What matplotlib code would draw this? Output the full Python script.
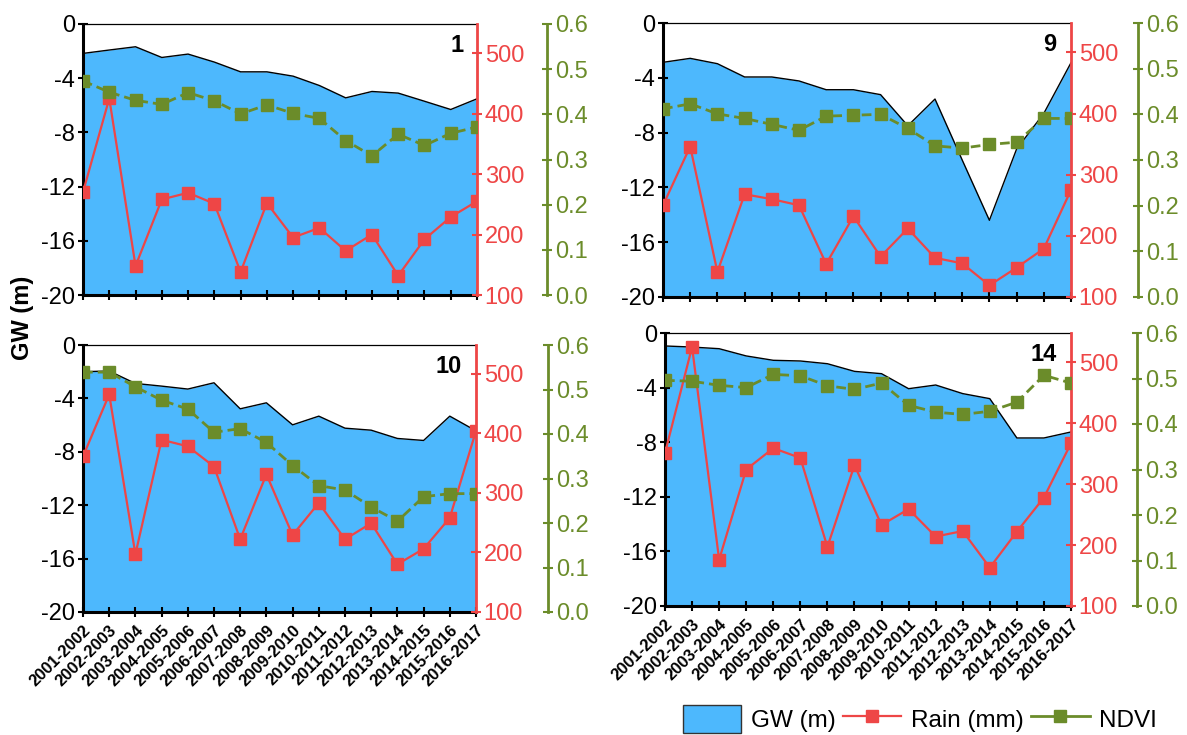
import matplotlib
matplotlib.use("Agg")
import matplotlib.pyplot as plt
from matplotlib.patches import Patch
from matplotlib.lines import Line2D
import numpy as np

plt.rcParams['font.family'] = ['Liberation Sans', 'DejaVu Sans']
plt.rcParams['axes.unicode_minus'] = False

# hydrological years
years = ["2001-2002", "2002-2003", "2003-2004", "2004-2005", "2005-2006",
         "2006-2007", "2007-2008", "2008-2009", "2009-2010", "2010-2011",
         "2011-2012", "2012-2013", "2013-2014", "2014-2015", "2015-2016",
         "2016-2017"]

# panel 1
gw_1 = [-2.17, -1.92, -1.68, -2.47, -2.22, -2.81, -3.53, -3.53, -3.85, -4.54,
        -5.45, -4.98, -5.10, -5.70, -6.31, -5.52]
rain_1 = [270, 425, 148, 258, 269, 251, 138, 252, 195, 211, 173, 200, 132, 192, 229, 255]
ndvi_1 = [0.474, 0.449, 0.431, 0.422, 0.448, 0.430, 0.401, 0.421, 0.402, 0.391,
          0.342, 0.308, 0.356, 0.331, 0.358, 0.372]

# panel 9
gw_9 = [-2.87, -2.58, -2.97, -3.94, -3.94, -4.23, -4.87, -4.87, -5.23, -7.5,
        -5.55, -10.0, -14.4, -9.2, -6.6, -2.9]
rain_9 = [250, 346, 141, 268, 260, 250, 154, 232, 166, 212, 164, 155, 119, 148, 179, 275]
ndvi_9 = [0.412, 0.423, 0.401, 0.391, 0.378, 0.365, 0.396, 0.398, 0.400, 0.369,
          0.331, 0.326, 0.334, 0.339, 0.391, 0.391]

# panel 10
gw_10 = [-2.0, -1.95, -2.88, -3.08, -3.3, -2.83, -4.78, -4.33, -5.98, -5.33,
         -6.23, -6.38, -7.0, -7.15, -5.33, -6.43]
rain_10 = [361, 465, 197, 389, 378, 344, 222, 331, 229, 283, 222, 249, 180, 206, 258, 404]
ndvi_10 = [0.539, 0.539, 0.506, 0.476, 0.456, 0.404, 0.412, 0.381, 0.329, 0.284,
           0.274, 0.236, 0.204, 0.259, 0.266, 0.266]

# panel 14
gw_14 = [-0.95, -1.03, -1.15, -1.68, -2.0, -2.05, -2.25, -2.81, -2.98, -4.08,
         -3.81, -4.44, -4.81, -7.69, -7.69, -7.25]
rain_14 = [351, 525, 176, 324, 359, 343, 197, 331, 233, 259, 214, 223, 163, 222, 278, 367]
ndvi_14 = [0.496, 0.494, 0.485, 0.480, 0.509, 0.506, 0.484, 0.476, 0.490, 0.441,
           0.426, 0.421, 0.428, 0.448, 0.507, 0.490]

BLUE = '#4db8fd'
RED = '#ee4646'
GREEN = '#6b8c2a'
W, H = 1187, 735

fig = plt.figure(figsize=(W / 100, H / 100), dpi=100)


def panel(px_box, label, gw, rain, ndvi, green_off, show_xlabels):
    left, right, top, bottom = px_box
    ax = fig.add_axes([left / W, 1 - bottom / H, (right - left) / W, (bottom - top) / H])
    x = np.arange(len(years))

    # groundwater as filled area
    ax.fill_between(x, gw, -20, color=BLUE, lw=0, zorder=1)
    ax.plot(x, gw, color='black', lw=1, zorder=2)
    ax.set_xlim(0, len(years) - 1)
    ax.set_ylim(-20, 0)
    ax.set_yticks([0, -4, -8, -12, -16, -20])
    ax.set_xticks(x)
    if show_xlabels:
        ax.set_xticklabels(years, rotation=45, ha='right', va='top',
                           rotation_mode='anchor', fontsize=12, fontweight='bold')
    else:
        ax.set_xticklabels([])
    ax.spines['left'].set_linewidth(2.2)
    ax.spines['bottom'].set_linewidth(2.2)
    ax.spines['top'].set_linewidth(0.9)
    ax.spines['right'].set_visible(False)
    ax.tick_params(axis='y', direction='inout', length=7, width=1.5, labelsize=17, pad=2)
    ax.tick_params(axis='x', direction='inout', length=7, width=1.5, pad=4)
    ax.text(0.965, 0.92, label, transform=ax.transAxes, ha='right', va='center',
            fontsize=17, fontweight='bold', zorder=5)

    # rain
    ax2 = ax.twinx()
    ax2.plot(x, rain, color=RED, lw=1.6, marker='s', markersize=8.5,
             markerfacecolor=RED, markeredgecolor=RED)
    ax2.set_ylim(100, 548)
    ax2.set_yticks([100, 200, 300, 400, 500])
    for s in ['left', 'top', 'bottom']:
        ax2.spines[s].set_visible(False)
    ax2.spines['right'].set_color(RED)
    ax2.spines['right'].set_linewidth(2)
    ax2.tick_params(axis='y', colors=RED, direction='inout', length=7, width=1.5,
                    labelsize=17, pad=2)

    # ndvi
    ax3 = ax.twinx()
    ax3.plot(x, ndvi, color=GREEN, lw=2, ls=(0, (3.5, 1.8)), marker='s', markersize=8.5,
             markerfacecolor=GREEN, markeredgecolor=GREEN)
    ax3.set_ylim(0, 0.6)
    ax3.set_yticks([0.0, 0.1, 0.2, 0.3, 0.4, 0.5, 0.6])
    ax3.set_yticklabels(['%.1f' % v for v in ax3.get_yticks()])
    for s in ['left', 'top', 'bottom']:
        ax3.spines[s].set_visible(False)
    ax3.spines['right'].set_position(('outward', green_off * 0.72))
    ax3.spines['right'].set_color(GREEN)
    ax3.spines['right'].set_linewidth(2)
    ax3.tick_params(axis='y', colors=GREEN, direction='inout', length=7, width=1.5,
                    labelsize=17, pad=2)
    return ax


panel((83, 477, 24, 295), '1', gw_1, rain_1, ndvi_1, 70, False)
panel((663, 1071, 23, 297), '9', gw_9, rain_9, ndvi_9, 67, False)
panel((83, 476, 345, 612), '10', gw_10, rain_10, ndvi_10, 72, True)
panel((665, 1071, 333, 606), '14', gw_14, rain_14, ndvi_14, 66, True)

fig.text(22 / W, 1 - 318 / H, 'GW (m)', rotation=90, ha='center', va='center',
         fontsize=17, fontweight='bold')

handles = [
    Patch(facecolor=BLUE, edgecolor='#333333', linewidth=1),
    Line2D([], [], color=RED, lw=1.6, marker='s', markersize=8.5),
    Line2D([], [], color=GREEN, lw=2, marker='s', markersize=8.5),
]
fig.legend(handles, ['GW (m)', 'Rain (mm)', 'NDVI'], ncol=3, frameon=False,
           loc='upper left', bbox_to_anchor=(683 / W, 1 - 705 / H),
           fontsize=17.5, handlelength=2.4, handleheight=1.4, handletextpad=0.4,
           columnspacing=0.3, borderpad=0, borderaxespad=0)

fig.savefig('out.png', dpi=100)
